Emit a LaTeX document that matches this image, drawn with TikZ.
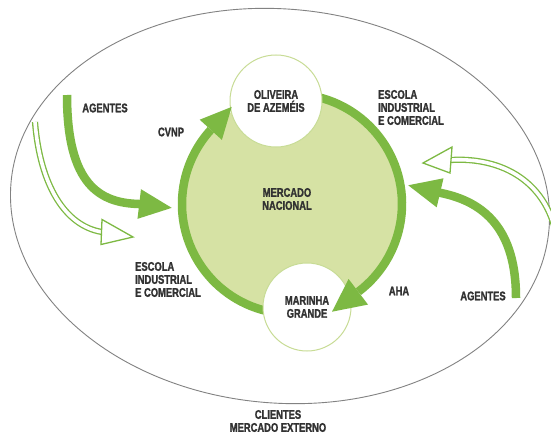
\documentclass[tikz,border=0pt]{standalone}
\usepackage{fontspec}
\setmainfont{Liberation Sans}[FakeStretch=0.75, BoldFeatures={FakeBold=1.5}]
\usetikzlibrary{arrows.meta}
\definecolor{ringgreen}{RGB}{125,185,67}
\definecolor{fillgreen}{RGB}{214,226,164}
\definecolor{edgegreen}{RGB}{200,220,150}
\definecolor{textgray}{RGB}{50,50,50}
\definecolor{ellgray}{RGB}{130,130,130}
\begin{document}
\begin{tikzpicture}[x=1pt,y=-1pt,
  lbl/.style={font=\fontsize{12.5}{13}\selectfont\bfseries, text=textgray, align=center, inner sep=0pt},
  maincirc/.style={circle, fill=fillgreen, minimum size=220pt, inner sep=0pt},
  smallcirc/.style={circle, fill=white, draw=edgegreen, line width=1pt, inner sep=0pt, lbl},
  ringline/.style={draw=ringgreen, line width=8.5pt},
  headfill/.style={fill=ringgreen},
  thickarrow/.style={draw=ringgreen, line width=8.5pt, -{Triangle[length=34pt,width=27pt]}},
  hollowline/.style={draw=ringgreen, line width=1.3pt, double=white, double distance=3.6pt},
  hollowhead/.style={draw=ringgreen, fill=white, line width=1.3pt, line join=miter}
]
\useasboundingbox (0,0) rectangle (551,436);
\clip (0,0) rectangle (551,436);
\fill[white] (0,0) rectangle (551,436);

% outer ellipse (mercado externo)
\draw[ellgray, line width=0.9pt, rotate around={-5:(280,206)}] (280,206) ellipse [x radius=270, y radius=197];

% main circle
\node[maincirc] (mercado) at (292,204) {};

% ring arcs
\draw[ringline] (mercado.center) ++(100:110) arc[start angle=100, end angle=222.4, radius=110];
\draw[ringline] (mercado.center) ++(275:110) arc[start angle=275, end angle=412.9, radius=110];

% small circles
\node[smallcirc, minimum size=92pt] (oliveira) at (276,101) {OLIVEIRA\\DE AZEMÉIS};
\node[smallcirc, minimum size=88pt] (marinha) at (307,307) {MARINHA\\GRANDE};

% ring arrowheads
\coordinate (cvnpTip) at (231.7,106.9);
\coordinate (ahaTip) at (332,311.7);
\fill[headfill] (cvnpTip) -- (199.7,119.7) -- (221.9,139.9) -- cycle;
\fill[headfill] (ahaTip) -- (368,304.6) -- (348.6,279) -- cycle;

% agentes arrows (thick)
\coordinate (agL0) at (67,95);
\coordinate (agL1) at (139,204);
\coordinate (agLtip) at (173,208);
\draw[thickarrow] (agL0) .. controls (67,185) and (100,203) .. (agL1) -- (agLtip);
\coordinate (agR0) at (516,298);
\coordinate (agR1) at (441,193);
\coordinate (agRtip) at (407,185);
\draw[thickarrow] (agR0) .. controls (516,230) and (485,202) .. (agR1) -- (agRtip);

% escola arrows (hollow)
\coordinate (esL0) at (35,122);
\coordinate (esL1) at (102,232);
\draw[hollowline] (esL0) .. controls (40,185) and (65,226) .. (esL1);
\draw[hollowhead] (133,237) -- (102,219.5) -- (101,244.5) -- cycle;
\coordinate (esR0) at (558,245);
\coordinate (esR1) at (451,160);
\draw[hollowline] (esR0) .. controls (550,180) and (500,157) .. (esR1);
\draw[hollowhead] (423,163) -- (452,147) -- (450,173) -- cycle;

% labels
\node[lbl] (agentesL) at (105,108) {AGENTES};
\node[lbl] (cvnp) at (171,132) {CVNP};
\node[lbl, align=left, anchor=west] (escolaR) at (378,107.5) {ESCOLA\\INDUSTRIAL\\E COMERCIAL};
\node[lbl] (mn) at (287,199) {MERCADO\\NACIONAL};
\node[lbl] (aha) at (399,291) {AHA};
\node[lbl] (agentesR) at (483,296) {AGENTES};
\node[lbl, align=left, anchor=west] (escolaL) at (135,279.5) {ESCOLA\\INDUSTRIAL\\E COMERCIAL};
\node[lbl] (clientes) at (278,421) {CLIENTES\\MERCADO EXTERNO};
\end{tikzpicture}
\end{document}
